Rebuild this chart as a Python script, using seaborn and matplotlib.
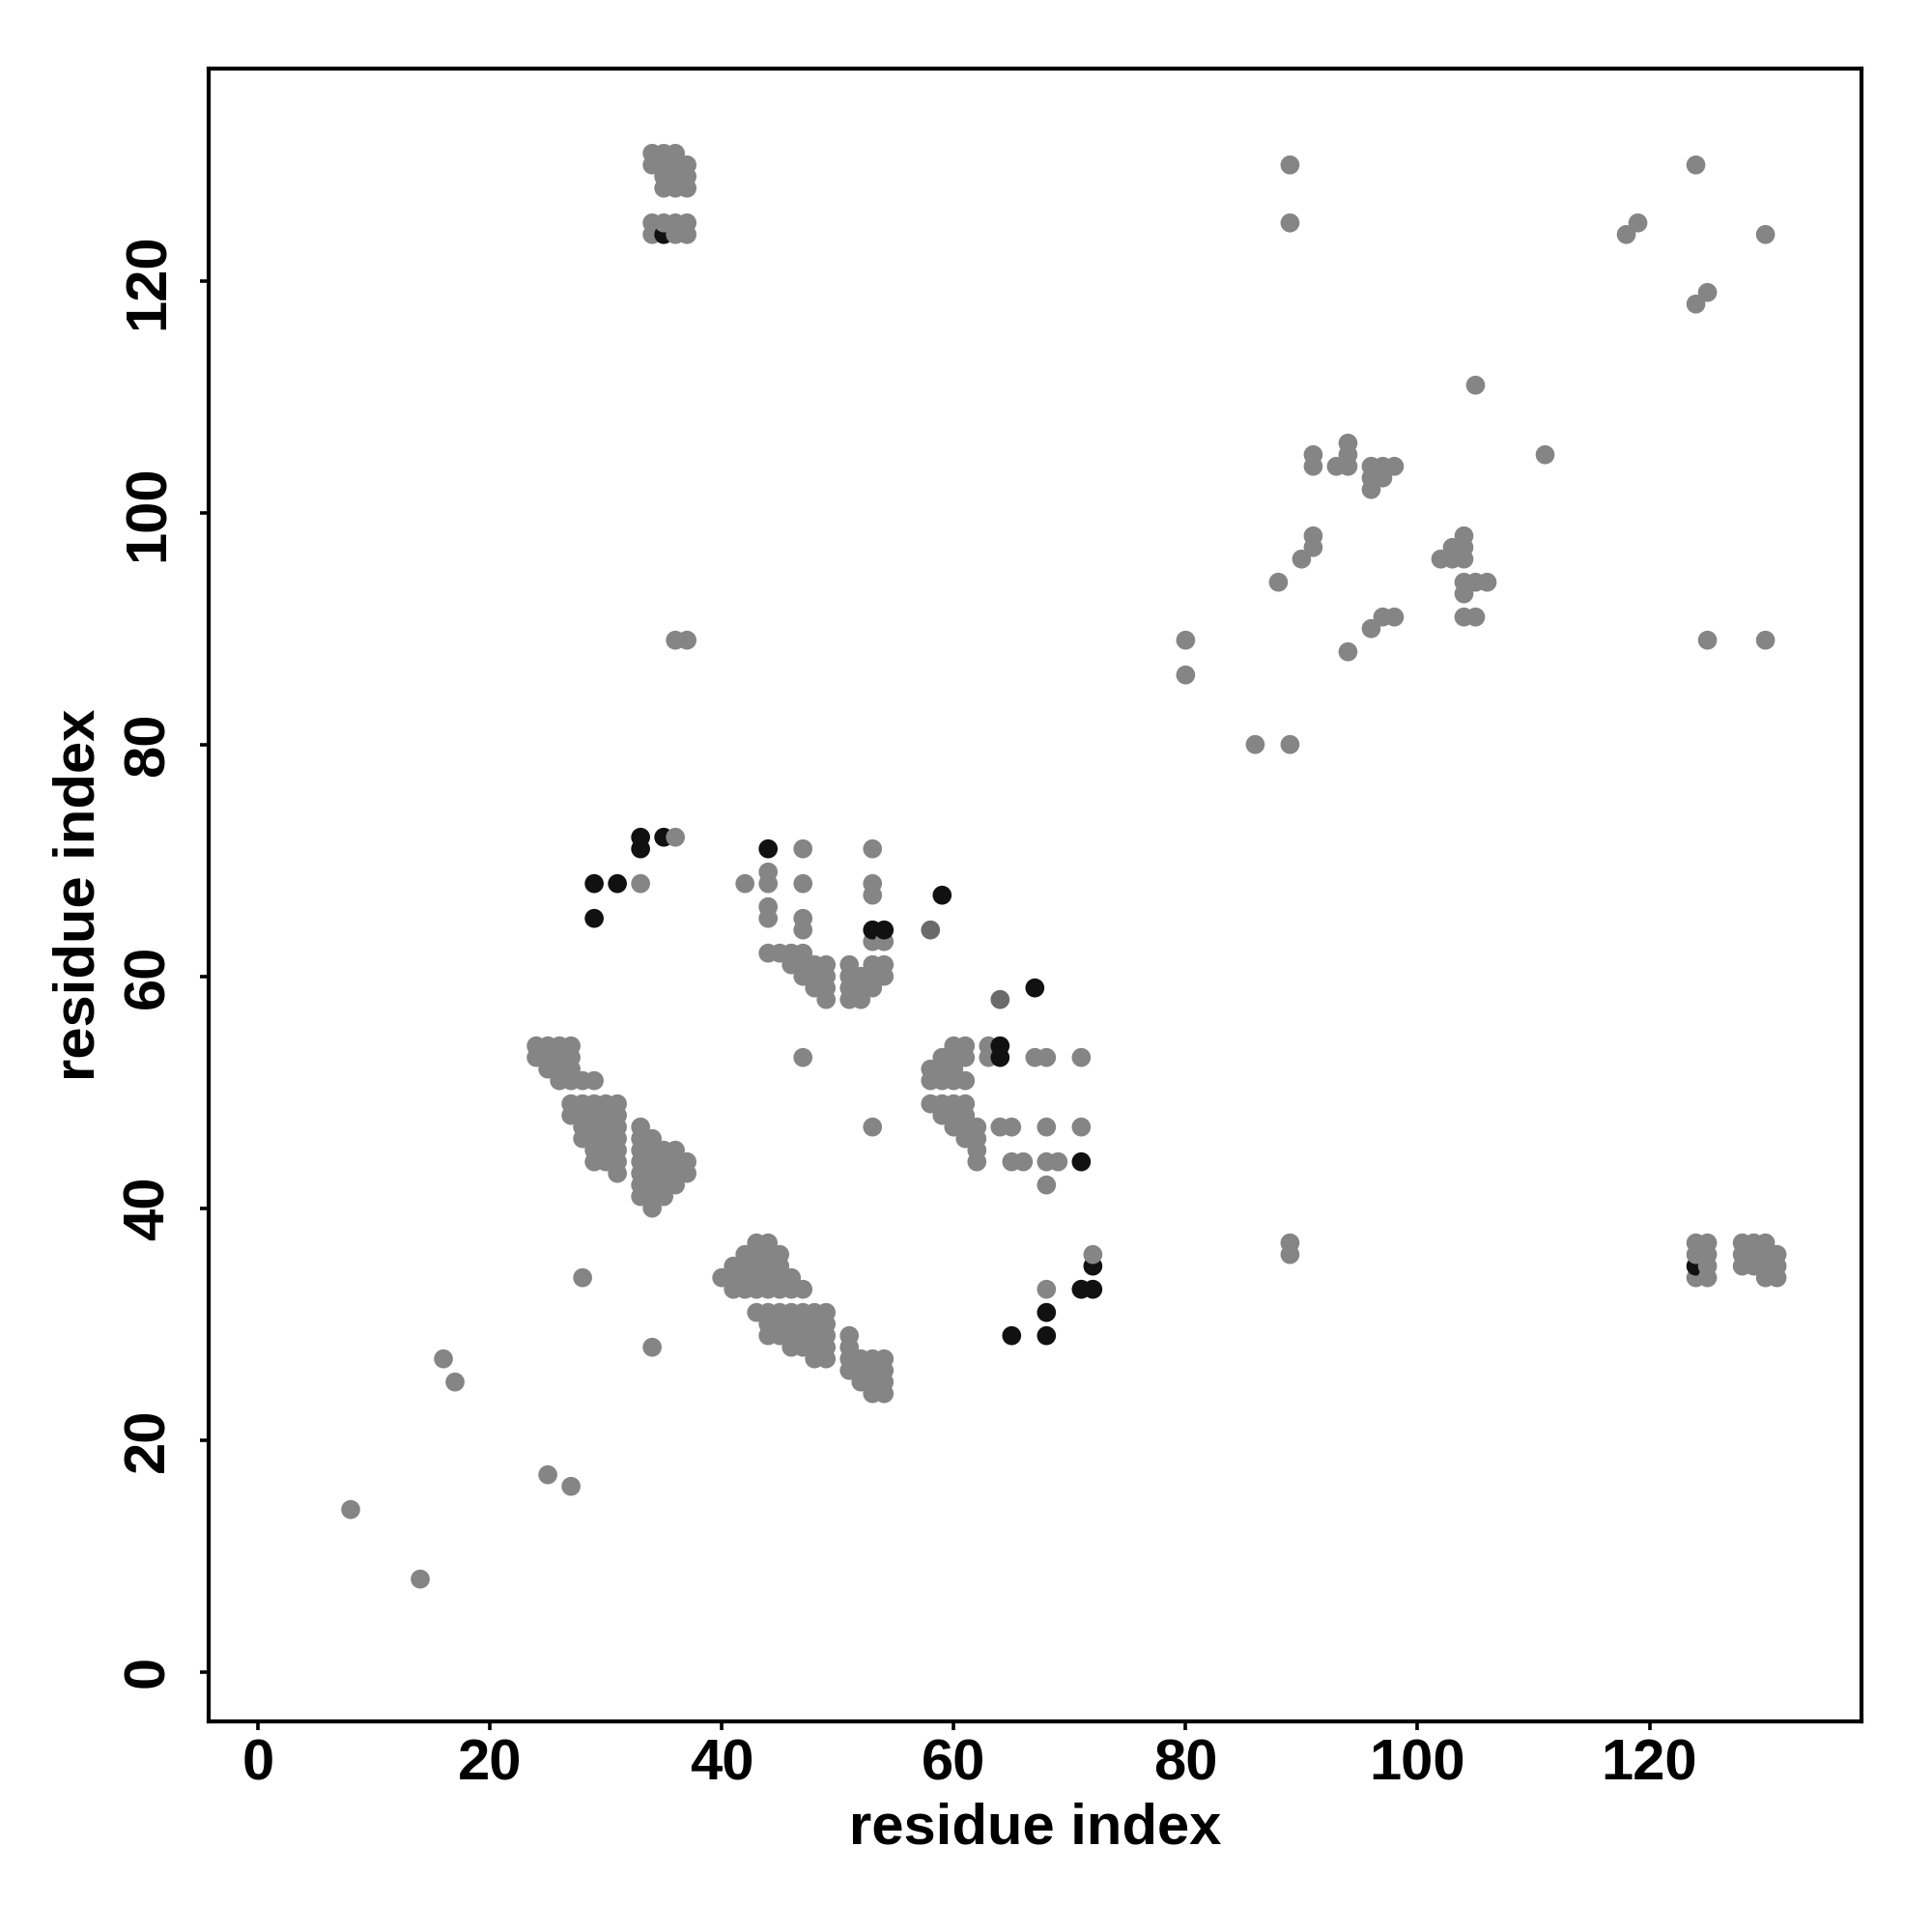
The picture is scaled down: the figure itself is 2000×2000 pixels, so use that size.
import matplotlib
matplotlib.use("Agg")
import matplotlib.pyplot as plt
import pandas as pd
import seaborn as sns

# residue contacts, one entry per residue on the x axis: (x, [y values])
# scattered long-range contacts
isolated = [
    (8, [14]), (14, [8]), (16, [27]), (17, [25]), (25, [17]), (27, [16]),
    (28, [34]), (34, [28]), (80, [86, 89]), (86, [80]), (88, [94]), (94, [88]),
    (89, [36, 37, 80, 125, 130]), (36, [89]), (37, [89]), (105, [111]), (111, [105]),
    (118, [124]), (119, [125]), (124, [118, 130]), (125, [89, 119]), (130, [89, 124]),
    (47, [53]), (53, [47]), (33, [68]), (68, [33]), (36, [72]), (72, [36]),
    (42, [68]), (68, [42]),
]

# strand pairings near residues 24-54
sheet_a = [
    (24, [53, 54]), (25, [52, 53, 54]), (26, [51, 52, 53, 54]), (27, [51, 52, 53, 54]),
    (28, [51]), (29, [51]),
    (51, [26, 27, 28, 29]), (52, [25, 26, 27]), (53, [24, 25, 26, 27]), (54, [24, 25, 26, 27]),
]
sheet_b = [
    (27, [48, 49]), (28, [46, 47, 48, 49]), (29, [44, 45, 46, 47, 48, 49]),
    (30, [44, 45, 46, 47, 48, 49]), (31, [43, 44, 45, 46, 47, 48, 49]),
    (43, [31]), (44, [29, 30, 31]), (45, [29, 30, 31]), (46, [28, 29, 30, 31]),
    (47, [28, 29, 30, 31]), (48, [27, 28, 29, 30, 31]), (49, [27, 28, 29, 30, 31]),
]
sheet_c = [
    (33, [41, 42, 43, 44, 45, 46, 47]), (34, [40, 41, 42, 43, 44, 45, 46]),
    (35, [41, 42, 43, 44, 45]), (36, [42, 43, 44, 45]), (37, [43, 44]),
    (40, [34]), (41, [33, 34, 35]), (42, [33, 34, 35, 36]), (43, [33, 34, 35, 36, 37]),
    (44, [33, 34, 35, 36, 37]), (45, [33, 34, 35, 36]), (46, [33, 34]), (47, [33]),
]

# contacts around residues 44-72
hairpin = [
    (44, [62, 65, 66, 68, 69]), (45, [62]), (46, [61, 62]),
    (47, [60, 61, 62, 64, 65, 68, 71]), (48, [59, 60, 61]), (49, [58, 59, 60, 61]),
    (51, [58, 59, 60, 61]), (52, [58, 59, 60]), (53, [59, 60, 61, 63, 67, 68, 71]),
    (54, [60, 61, 63]),
    (58, [49, 51, 52]), (59, [48, 49, 51, 52, 53]), (60, [47, 48, 49, 51, 52, 53, 54]),
    (61, [46, 47, 48, 49, 51, 53, 54]), (62, [44, 45, 46, 47]), (63, [53, 54]),
    (64, [47]), (65, [44, 47]), (66, [44]), (67, [53]), (68, [44, 47, 53]),
    (69, [44]), (71, [47, 53]),
]

# C-terminal block (residues 88-106)
cterm = [
    (90, [96]), (91, [97, 98, 104, 105]), (93, [104]), (94, [104, 105, 106]),
    (96, [90, 102, 103, 104]), (97, [91, 103, 104]), (98, [91, 104]),
    (102, [96]), (103, [96, 97]), (104, [91, 93, 94, 96, 97, 98]),
    (105, [91, 94]), (106, [94]),
]

# residues 34-37 against 124-131
corner = [
    (34, [124, 125, 130, 131]), (35, [125, 128, 129, 130, 131]),
    (36, [124, 125, 128, 129, 130, 131]), (37, [124, 125, 128, 129, 130]),
    (124, [34, 36, 37]), (125, [34, 35, 36, 37]), (128, [35, 36, 37]),
    (129, [35, 36, 37]), (130, [34, 35, 36, 37]), (131, [34, 35, 36]),
]

# darker grey contacts
dark = [(58, [64]), (64, [58])]

# contacts drawn in black
black = [
    (29, [65, 68]), (31, [68]), (33, [71, 72]), (35, [72, 124]), (44, [71]),
    (53, [64]), (54, [64]), (59, [67]), (64, [53, 54]), (65, [29]), (67, [59]),
    (68, [29, 31]), (71, [33, 44]), (72, [33, 35]), (124, [35]),
]


def to_rows(groups, kind):
    rows = []
    for g in groups:
        for x, ys in g:
            for y in ys:
                rows.append({"x": x, "y": y, "kind": kind})
    return rows


rows = to_rows([isolated, sheet_a, sheet_b, sheet_c, hairpin, cterm, corner], "grey")
rows += to_rows([dark], "dark") + to_rows([black], "black")
df = pd.DataFrame(rows).sort_values(["x", "y"], kind="stable").reset_index(drop=True)

sns.set_style("white")
plt.rcParams["font.family"] = ["Liberation Sans", "DejaVu Sans"]
plt.rcParams["font.weight"] = "bold"
for key in ["text.color", "axes.labelcolor", "xtick.color", "ytick.color"]:
    plt.rcParams[key] = "black"

fig = plt.figure(figsize=(10, 10), dpi=200)
ax = fig.add_axes([0.1078, 0.109, 0.8557, 0.8553])

sns.scatterplot(
    data=df, x="x", y="y", hue="kind",
    palette={"grey": "#858585", "dark": "#6a6a6a", "black": "#111111"},
    s=50, linewidth=0, legend=False, ax=ax,
)

ax.set_xlim(-4.28, 138.28)
ax.set_ylim(-4.28, 138.28)
ax.set_xticks(range(0, 121, 20))
ax.set_yticks(range(0, 121, 20))
ax.tick_params(axis="both", direction="out", length=3.3, width=1.3,
               labelsize=21.5, color="black", labelcolor="black", left=True, bottom=True)
ax.tick_params(axis="x", pad=3)
ax.tick_params(axis="y", pad=9)
for lab in ax.get_yticklabels():
    lab.set_rotation(90)
    lab.set_va("center")
for lab in ax.get_xticklabels() + ax.get_yticklabels():
    lab.set_fontweight("bold")
for sp in ax.spines.values():
    sp.set_visible(True)
    sp.set_color("black")
    sp.set_linewidth(1.5)

ax.set_xlabel("residue index", fontsize=21.5, fontweight="bold", labelpad=4, color="black")
ax.set_ylabel("residue index", fontsize=21.5, fontweight="bold", labelpad=6, color="black")

fig.savefig("out.png", dpi=200, facecolor="white")
